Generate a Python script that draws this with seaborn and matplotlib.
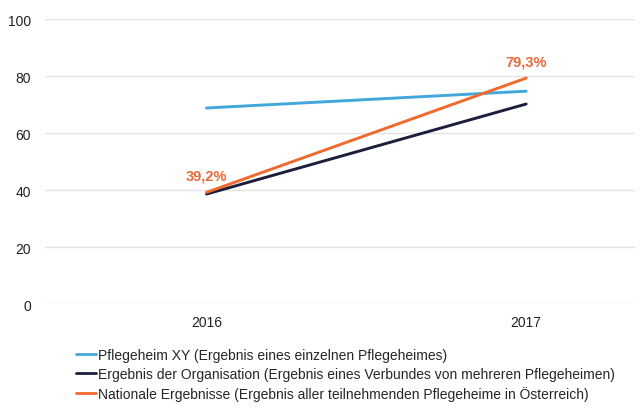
import matplotlib
matplotlib.use("Agg")
import matplotlib.pyplot as plt
import pandas as pd
import seaborn as sns

years = ["2016", "2017"]
pflegeheim = [68.8, 74.7]
organisation = [38.6, 70.2]
national = [39.2, 79.3]

series_names = [
    "Pflegeheim XY (Ergebnis eines einzelnen Pflegeheimes)",
    "Ergebnis der Organisation (Ergebnis eines Verbundes von mehreren Pflegeheimen)",
    "Nationale Ergebnisse (Ergebnis aller teilnehmenden Pflegeheime in Österreich)",
]
colours = ["#42a8dc", "#1b1e3c", "#ee6a2e"]

rows = []
for name, vals in zip(series_names, [pflegeheim, organisation, national]):
    for i, (y, v) in enumerate(zip(years, vals)):
        rows.append({"pos": i, "year": y, "value": v, "series": name})
df = pd.DataFrame(rows)

sns.set_theme(style="white")
plt.rcParams["font.family"] = ["Liberation Sans", "DejaVu Sans"]

fig = plt.figure(figsize=(6.4, 4.1), dpi=100)
ax = fig.add_axes([0.07, 0.256, 0.922, 0.695])

sns.lineplot(data=df, x="pos", y="value", hue="series", hue_order=series_names,
             palette=dict(zip(series_names, colours)), linewidth=2.1, ax=ax,
             legend=False)

# value labels on national series
for i, v in enumerate(national):
    ax.text(i, v + 3.5, f"{v:.1f}%".replace(".", ","), ha="center", va="bottom",
            color="#e8693a", fontsize=10.5, fontweight="bold")

ax.set_ylim(0, 100)
ax.set_xlim(-0.506, 1.34)
ax.set_yticks(range(0, 101, 20))
ax.set_xticks(range(len(years)))
ax.set_xticklabels(years)
ax.set_xlabel("")
ax.set_ylabel("")
ax.grid(axis="y", color="#e2e2e2", linewidth=1)
for s in ax.spines.values():
    s.set_visible(False)
ax.tick_params(axis="both", length=0, labelsize=10, colors="#222222")
ax.tick_params(axis="y", pad=10)
ax.tick_params(axis="x", pad=8)

handles = [plt.Line2D([], [], color=c, linewidth=2) for c in colours]
fig.legend(handles, series_names, loc="upper left", bbox_to_anchor=(0.118, 0.148),
           frameon=False, fontsize=10, handlelength=1.5, handletextpad=0.1,
           labelspacing=0.35, borderaxespad=0, borderpad=0)

fig.savefig("out.png", dpi=100)
